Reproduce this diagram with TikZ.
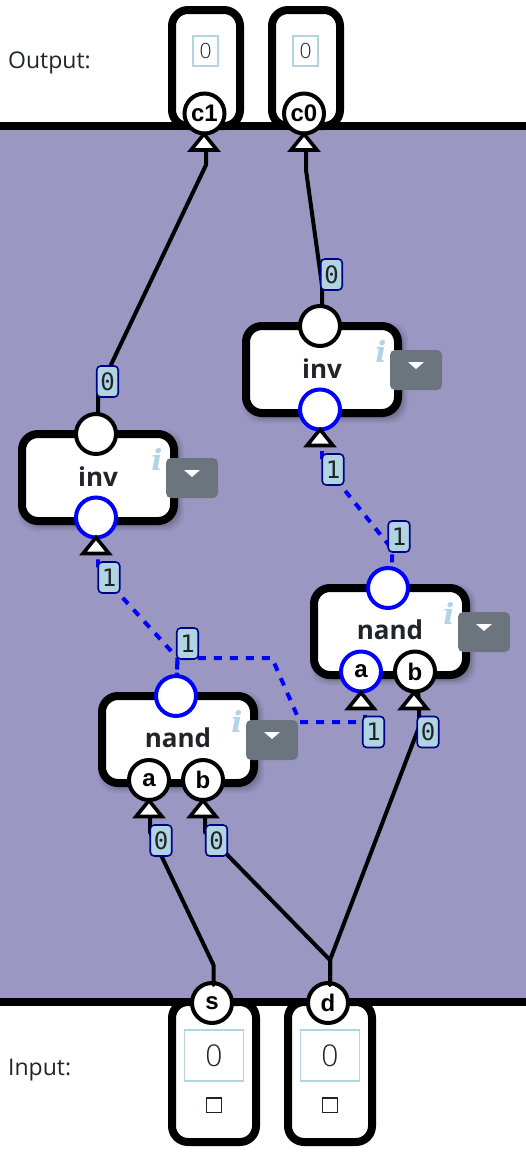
\documentclass[tikz,border=0pt]{standalone}
\usepackage{fontspec}
\setmainfont{Open Sans}
\newfontfamily\portfont{Liberation Sans}
\newfontfamily\labfont{DejaVu Sans Mono}
\newfontfamily\infofont{DejaVu Serif}
\newfontfamily\lightfont{Open Sans Light}
\definecolor{bandc}{RGB}{154,152,195}
\definecolor{lightc}{RGB}{176,212,226}
\definecolor{navyc}{RGB}{0,0,139}
\definecolor{inkc}{RGB}{33,37,41}
\definecolor{dropc}{RGB}{108,117,125}
\definecolor{livec}{RGB}{0,0,255}
\tikzset{
  x=1pt,y=-1pt,
  wire/.style={draw=black,line width=4pt,line join=round},
  livewire/.style={draw=livec,line width=4pt,dash pattern=on 8pt off 8pt,line join=miter},
  portnode/.style={circle,draw=black,fill=white,line width=4pt,minimum size=40pt,inner sep=0pt,font=\portfont\bfseries\fontsize{24}{24}\selectfont,text=black},
  liveport/.style={portnode,draw=livec},
  wirelabel/.style={draw=navyc,fill=lightc,line width=1.6pt,rounded corners=4pt,minimum width=21.5pt,minimum height=31pt,inner sep=0pt,font=\labfont\fontsize{24}{24}\selectfont,text=inkc},
  gatebody/.style={draw=black,fill=white,line width=8pt,rounded corners=16pt},
  iobox/.style={draw=black,fill=white,line width=8pt,rounded corners=16pt},
  valbox/.style={draw=lightc,fill=white,line width=1.6pt,inner sep=0pt,text=inkc},
  gatename/.style={font=\bfseries\fontsize{26}{26}\selectfont,text=inkc},
  infomark/.style={font=\infofont\bfseries\itshape\fontsize{29}{29}\selectfont,text=lightc,inner sep=0pt},
  dropbox/.style={fill=dropc,rounded corners=5pt,minimum width=52pt,minimum height=40pt,inner sep=0pt},
  tip/.style={draw=black,fill=white,line width=3.6pt,miter limit=10},
  iotext/.style={anchor=west,inner sep=0pt,font=\fontsize{23}{23}\selectfont,text=inkc}
}
\newcommand{\gateshadow}[4]{%
  \foreach \k/\o in {7/0.05,5/0.07,3/0.09,1/0.12}{%
    \fill[black,opacity=\o,rounded corners=18pt] (#1-\k+3,#2-\k+3) rectangle (#3+\k+3,#4+\k+3);}}
\newcommand{\droparrow}[2]{\fill[white] (#1-8,#2-3.5) -- (#1+8,#2-3.5) -- (#1,#2+3.5) -- cycle;}
\newcommand{\intip}[2]{\draw[tip] (#1,#2-16) -- (#1+13,#2) -- (#1-13,#2) -- cycle;}
\begin{document}
\begin{tikzpicture}
\useasboundingbox (0,0) rectangle (526,1152);
\fill[white] (0,0) rectangle (526,1152);
\fill[bandc] (0,126) rectangle (526,1002);

% io boxes
\draw[iobox] (172,10) rectangle (240,126);
\draw[iobox] (272,10) rectangle (340,126);
\draw[iobox] (172,1002) rectangle (256,1142);
\draw[iobox] (288,1002) rectangle (372,1142);
\draw[black,line width=8pt] (0,126) -- (526,126);
\draw[black,line width=8pt] (0,1002) -- (526,1002);

% shadows
\gateshadow{246}{326}{398}{413}
\gateshadow{22}{434}{174}{521}
\gateshadow{314}{588}{466}{675}
\gateshadow{102}{696}{254}{783}

% ports
\node[portnode] (c1) at (204.5,113.5) {c1};
\node[portnode] (c0) at (304,113.5) {c0};
\node[portnode] (s) at (212,1003) {s};
\node[portnode] (d) at (328,1003) {d};
\coordinate (inv1out) at (320,326);
\coordinate (inv1in) at (320,409.5);
\coordinate (inv2out) at (96,434);
\coordinate (inv2in) at (96,517.5);
\coordinate (n1out) at (388,588);
\coordinate (n1a) at (361,671.5);
\coordinate (n1b) at (415,671.5);
\coordinate (n2out) at (176,696);
\coordinate (n2a) at (149,780);
\coordinate (n2b) at (203,780);

% wires
\draw[wire] (inv2out) -- (98,412) -- (98,392) -- (206,165) -- (206,150) -- (c1);
\draw[wire] (inv1out) -- (322,304) -- (322,285) -- (306,170) -- (306,150) -- (c0);
\draw[wire] (s) -- (213.5,985) -- (213.5,965) -- (150,832) -- (150,815) -- (n2a);
\draw[wire] (d) -- (330,985) -- (330,960) -- (205,832) -- (205,815) -- (n2b);
\draw[wire] (d) -- (330,985) -- (330,960) -- (419,727) -- (419,700) -- (n1b);
\draw[livewire,dash phase=5.5pt] (n2out) -- (177.5,658) -- (272,658) -- (300,722) -- (365,722) -- (365,700) -- (n1a);
\draw[livewire,dash phase=0.6pt] (n2out) -- (177.5,658) -- (122,597) -- (98,570.5) -- (98,545) -- (inv2in);
\draw[livewire,dash phase=6pt] (n1out) -- (392,570) -- (392,549) -- (322,462) -- (322,440) -- (inv1in);

% gate bodies
\draw[gatebody] (246,326) rectangle (398,413);
\draw[gatebody] (22,434) rectangle (174,521);
\draw[gatebody] (314,588) rectangle (466,675);
\draw[gatebody] (102,696) rectangle (254,783);

\node[gatename] (tinv1) at (322,369) {inv};
\node[gatename] (tinv2) at (98,477) {inv};
\node[gatename] (tn1) at (390,630) {nand};
\node[gatename] (tn2) at (178,738) {nand};

\node[infomark] (i1) at (381,351) {i};
\node[infomark] (i2) at (157,459) {i};
\node[infomark] (i3) at (449,613) {i};
\node[infomark] (i4) at (237,721) {i};

\node[dropbox] (dd1) at (416,370) {};
\node[dropbox] (dd2) at (192,478) {};
\node[dropbox] (dd3) at (484,632) {};
\node[dropbox] (dd4) at (272,740) {};
\droparrow{416}{365.5}
\droparrow{192}{473.5}
\droparrow{484}{627.5}
\droparrow{272}{735.5}

% gate ports
\node[portnode] at (inv1out) {};
\node[liveport] at (inv1in) {};
\node[portnode] at (inv2out) {};
\node[liveport] at (inv2in) {};
\node[liveport] at (n1out) {};
\node[liveport] at (n1a) {a};
\node[portnode] at (n1b) {b};
\node[liveport] at (n2out) {};
\node[portnode] at (n2a) {a};
\node[portnode] at (n2b) {b};

% arrow tips
\intip{204}{150}
\intip{304}{150}
\intip{320}{445.5}
\intip{96}{553.5}
\intip{361}{708.5}
\intip{414}{708.5}
\intip{149}{816.5}
\intip{203}{816.5}

% wire labels
\node[wirelabel] (l1) at (107.5,381.5) {0};
\node[wirelabel] (l2) at (331.5,274.5) {0};
\node[wirelabel] (l3) at (333,469.5) {1};
\node[wirelabel] (l4) at (399,536.5) {1};
\node[wirelabel] (l5) at (109,577.5) {1};
\node[wirelabel] (l6) at (187.5,643.5) {1};
\node[wirelabel] (l7) at (373.5,732) {1};
\node[wirelabel] (l8) at (428,732) {0};
\node[wirelabel] (l9) at (161,840.5) {0};
\node[wirelabel] (l10) at (216.5,840.5) {0};

% io contents
\node[iotext] (tout) at (8,62.5) {Output:};
\node[iotext] (tin) at (8,1070.5) {Input:};
\node[valbox,minimum width=25pt,minimum height=30pt,font=\lightfont\fontsize{21}{21}\selectfont] (v1) at (205.5,51) {0};
\node[valbox,minimum width=25pt,minimum height=30pt,font=\lightfont\fontsize{21}{21}\selectfont] (v0) at (305.5,51) {0};
\node[valbox,minimum width=59pt,minimum height=51pt,font=\lightfont\fontsize{30}{30}\selectfont] (vs) at (214,1055.5) {0};
\node[valbox,minimum width=59pt,minimum height=51pt,font=\lightfont\fontsize{30}{30}\selectfont] (vd) at (330,1055.5) {0};
\draw[inkc,line width=1.6pt] (206.5,1098) rectangle (221.5,1112.5);
\draw[inkc,line width=1.6pt] (322.5,1098) rectangle (337.5,1112.5);
\end{tikzpicture}
\end{document}
